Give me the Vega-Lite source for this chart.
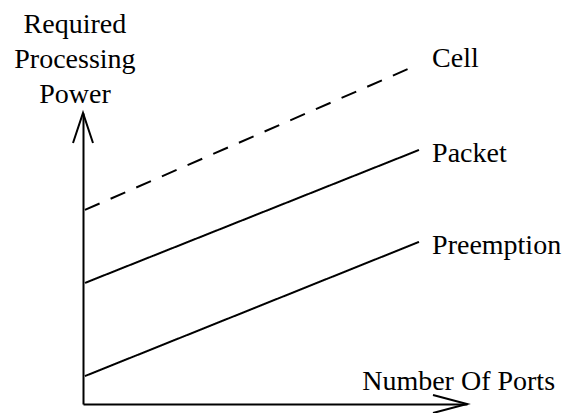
{
  "$schema": "https://vega.github.io/schema/vega-lite/v6.json",
  "width": 384,
  "height": 291,
  "autosize": {"type": "none"},
  "padding": {"left": 83, "top": 113, "right": 97, "bottom": 9},
  "background": "white",
  "config": {
    "view": {"stroke": null},
    "axis": {"domain": true, "domainColor": "black", "domainWidth": 2, "ticks": false, "labels": false, "grid": false, "title": null},
    "text": {"font": "Liberation Serif", "fontSize": 28, "color": "black"}
  },
  "layer": [
    {
      "data": {"values": [
        {"series": "Cell", "x": 0.05, "y": 6.67},
        {"series": "Cell", "x": 8.65, "y": 11.62},
        {"series": "Packet", "x": 0.05, "y": 4.16},
        {"series": "Packet", "x": 8.75, "y": 8.73},
        {"series": "Preemption", "x": 0.05, "y": 0.96},
        {"series": "Preemption", "x": 8.75, "y": 5.57}
      ]},
      "mark": {"type": "line", "color": "black", "strokeWidth": 2},
      "encoding": {
        "x": {"field": "x", "type": "quantitative", "scale": {"domain": [0, 10], "nice": false, "zero": false}, "axis": {"orient": "bottom"}},
        "y": {"field": "y", "type": "quantitative", "scale": {"domain": [0, 10], "nice": false, "zero": false}, "axis": {"orient": "left"}},
        "detail": {"field": "series"},
        "strokeDash": {"field": "series", "type": "nominal", "scale": {"domain": ["Cell", "Packet", "Preemption"], "range": [[16, 12], [1, 0], [1, 0]]}, "legend": null}
      }
    },
    {
      "data": {"values": [{"axis": "y", "x": 0, "y": 10}]},
      "mark": {"type": "point", "shape": "M-1,3L0,0L1,3", "size": 400, "filled": false, "stroke": "black", "strokeWidth": 2, "opacity": 1},
      "encoding": {
        "x": {"field": "x", "type": "quantitative"},
        "y": {"field": "y", "type": "quantitative"}
      }
    },
    {
      "data": {"values": [{"axis": "x", "x": 10, "y": 0}]},
      "mark": {"type": "point", "shape": "M-3.4,-0.9L0,0L-3.4,0.9", "size": 400, "filled": false, "stroke": "black", "strokeWidth": 2, "opacity": 1},
      "encoding": {
        "x": {"field": "x", "type": "quantitative"},
        "y": {"field": "y", "type": "quantitative"}
      }
    },
    {
      "data": {"values": [
        {"label": "Cell", "x": 9.09, "y": 11.58},
        {"label": "Packet", "x": 9.09, "y": 8.32},
        {"label": "Preemption", "x": 9.09, "y": 5.15},
        {"label": "Number Of Ports", "x": 7.27, "y": 0.48}
      ]},
      "mark": {"type": "text", "align": "left", "baseline": "alphabetic"},
      "encoding": {
        "x": {"field": "x", "type": "quantitative"},
        "y": {"field": "y", "type": "quantitative"},
        "text": {"field": "label"}
      }
    },
    {
      "data": {"values": [
        {"label": "Required\nProcessing\nPower", "x": -0.21, "y": 12.75}
      ]},
      "mark": {"type": "text", "align": "center", "baseline": "alphabetic", "lineBreak": "\n", "lineHeight": 35},
      "encoding": {
        "x": {"field": "x", "type": "quantitative"},
        "y": {"field": "y", "type": "quantitative"},
        "text": {"field": "label"}
      }
    }
  ]
}
